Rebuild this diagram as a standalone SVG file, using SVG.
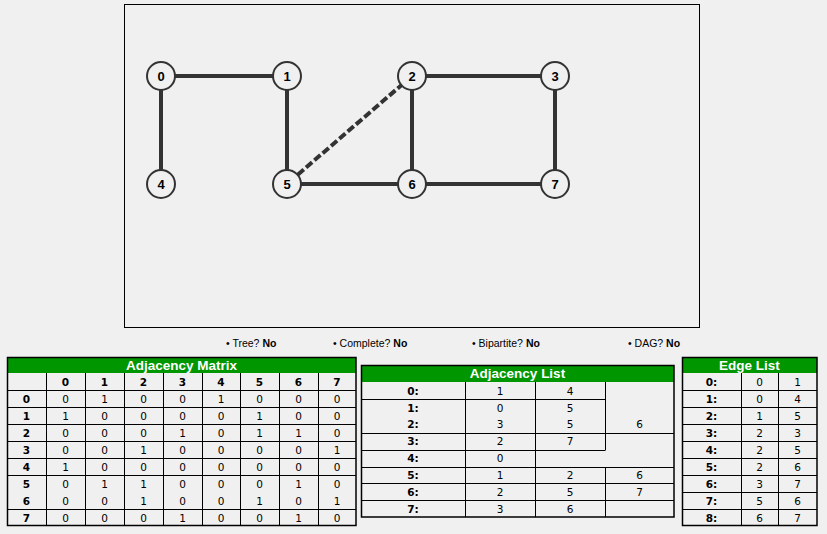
<svg xmlns="http://www.w3.org/2000/svg" width="827" height="534" viewBox="0 0 827 534">
<style>
.edge{stroke:#333;stroke-width:4;fill:none}
.dash{stroke-dasharray:8,3}
.node circle{fill:#f0f0f0;stroke:#333;stroke-width:2}
.node text{font-family:"Liberation Sans",Arial,sans-serif;font-weight:bold;font-size:13px;fill:#000;text-anchor:middle}
.hdr{fill:#009600}
.ht{font-family:"Liberation Sans",Arial,sans-serif;font-weight:bold;font-size:13.5px;fill:#fff;text-anchor:middle}
.g{stroke:#000;stroke-width:1;fill:none}
.ob{stroke:#000;stroke-width:1.5;fill:none}
.c{font-family:"DejaVu Sans",Verdana,sans-serif;font-size:10.5px;fill:#000;text-anchor:middle}
.b{font-weight:bold}
.p{font-family:"Liberation Sans",Arial,sans-serif;font-size:10.5px;fill:#000}
</style>
<rect width="827" height="534" fill="#f0f0f0"/>
<rect x="124.5" y="4.5" width="575" height="323" fill="#f0f0f0" stroke="#000" stroke-width="1"/>
<g id="connectors">
<line class="edge" x1="161" y1="76" x2="287" y2="76"/>
<line class="edge" x1="161" y1="76" x2="161" y2="184"/>
<line class="edge" x1="287" y1="76" x2="287" y2="184"/>
<line class="edge" x1="412" y1="76" x2="555" y2="76"/>
<line class="edge dash" x1="412" y1="76" x2="287" y2="184"/>
<line class="edge" x1="412" y1="76" x2="412" y2="184"/>
<line class="edge" x1="555" y1="76" x2="555" y2="184"/>
<line class="edge" x1="287" y1="184" x2="412" y2="184"/>
<line class="edge" x1="412" y1="184" x2="555" y2="184"/>
</g>
<g id="node0" class="node"><circle cx="161" cy="76" r="14"/><text x="161" y="81">0</text></g>
<g id="node1" class="node"><circle cx="287" cy="76" r="14"/><text x="287" y="81">1</text></g>
<g id="node2" class="node"><circle cx="412" cy="76" r="14"/><text x="412" y="81">2</text></g>
<g id="node3" class="node"><circle cx="555" cy="76" r="14"/><text x="555" y="81">3</text></g>
<g id="node4" class="node"><circle cx="161" cy="184" r="14"/><text x="161" y="189">4</text></g>
<g id="node5" class="node"><circle cx="287" cy="184" r="14"/><text x="287" y="189">5</text></g>
<g id="node6" class="node"><circle cx="412" cy="184" r="14"/><text x="412" y="189">6</text></g>
<g id="node7" class="node"><circle cx="555" cy="184" r="14"/><text x="555" y="189">7</text></g>

<g id="properties">
<text class="p" x="226" y="347">• Tree? <tspan font-weight="bold">No</tspan></text>
<text class="p" x="333" y="347">• Complete? <tspan font-weight="bold">No</tspan></text>
<text class="p" x="472" y="347">• Bipartite? <tspan font-weight="bold">No</tspan></text>
<text class="p" x="628" y="347">• DAG? <tspan font-weight="bold">No</tspan></text>
</g>

<g id="adjacency-matrix">
<rect class="hdr" x="7" y="357" width="349" height="16"/>
<text class="ht" x="181.5" y="370">Adjacency Matrix</text>
<path class="g" d="M46.5 373V526M85.5 373V526M124.5 373V526M163.5 373V526M202.5 373V526M240.5 373V526M279.5 373V526M318.5 373V526M7 390.5H356M7 407.5H356M7 424.5H356M7 441.5H356M7 458.5H356M7 475.5H356M7 509.5H356"/>
<rect class="ob" x="7.5" y="357.5" width="348.5" height="168"/>
<g class="c b">
<text x="65.5" y="386">0</text><text x="104.5" y="386">1</text><text x="143.5" y="386">2</text><text x="182.5" y="386">3</text><text x="221" y="386">4</text><text x="259.5" y="386">5</text><text x="298.5" y="386">6</text><text x="337" y="386">7</text>
<text x="26.5" y="403">0</text><text x="26.5" y="420">1</text><text x="26.5" y="437">2</text><text x="26.5" y="454">3</text><text x="26.5" y="471">4</text><text x="26.5" y="488">5</text><text x="26.5" y="505">6</text><text x="26.5" y="522">7</text>
</g>
<g class="c">
<text x="65.5" y="403">0</text><text x="104.5" y="403">1</text><text x="143.5" y="403">0</text><text x="182.5" y="403">0</text><text x="221" y="403">1</text><text x="259.5" y="403">0</text><text x="298.5" y="403">0</text><text x="337" y="403">0</text>
<text x="65.5" y="420">1</text><text x="104.5" y="420">0</text><text x="143.5" y="420">0</text><text x="182.5" y="420">0</text><text x="221" y="420">0</text><text x="259.5" y="420">1</text><text x="298.5" y="420">0</text><text x="337" y="420">0</text>
<text x="65.5" y="437">0</text><text x="104.5" y="437">0</text><text x="143.5" y="437">0</text><text x="182.5" y="437">1</text><text x="221" y="437">0</text><text x="259.5" y="437">1</text><text x="298.5" y="437">1</text><text x="337" y="437">0</text>
<text x="65.5" y="454">0</text><text x="104.5" y="454">0</text><text x="143.5" y="454">1</text><text x="182.5" y="454">0</text><text x="221" y="454">0</text><text x="259.5" y="454">0</text><text x="298.5" y="454">0</text><text x="337" y="454">1</text>
<text x="65.5" y="471">1</text><text x="104.5" y="471">0</text><text x="143.5" y="471">0</text><text x="182.5" y="471">0</text><text x="221" y="471">0</text><text x="259.5" y="471">0</text><text x="298.5" y="471">0</text><text x="337" y="471">0</text>
<text x="65.5" y="488">0</text><text x="104.5" y="488">1</text><text x="143.5" y="488">1</text><text x="182.5" y="488">0</text><text x="221" y="488">0</text><text x="259.5" y="488">0</text><text x="298.5" y="488">1</text><text x="337" y="488">0</text>
<text x="65.5" y="505">0</text><text x="104.5" y="505">0</text><text x="143.5" y="505">1</text><text x="182.5" y="505">0</text><text x="221" y="505">0</text><text x="259.5" y="505">1</text><text x="298.5" y="505">0</text><text x="337" y="505">1</text>
<text x="65.5" y="522">0</text><text x="104.5" y="522">0</text><text x="143.5" y="522">0</text><text x="182.5" y="522">1</text><text x="221" y="522">0</text><text x="259.5" y="522">0</text><text x="298.5" y="522">1</text><text x="337" y="522">0</text>
</g>
</g>

<g id="adjacency-list">
<rect class="hdr" x="361" y="365" width="313" height="17"/>
<text class="ht" x="517.5" y="378">Adjacency List</text>
<path class="g" d="M361 399.5H605M361 433.5H674M361 450.5H605M361 467.5H674M361 483.5H674M361 500.5H674M465.5 382V517M535.5 382V517M605.5 382V450.5M605.5 467V517"/>
<rect class="ob" x="361.5" y="365.5" width="312.5" height="151.5"/>
<g class="c b">
<text x="413" y="395">0:</text><text x="413" y="412">1:</text><text x="413" y="428">2:</text><text x="413" y="445">3:</text><text x="413" y="462">4:</text><text x="413" y="479">5:</text><text x="413" y="496">6:</text><text x="413" y="513">7:</text>
</g>
<g class="c">
<text x="500" y="395">1</text><text x="570" y="395">4</text>
<text x="500" y="412">0</text><text x="570" y="412">5</text>
<text x="500" y="428">3</text><text x="570" y="428">5</text><text x="639.5" y="428">6</text>
<text x="500" y="445">2</text><text x="570" y="445">7</text>
<text x="500" y="462">0</text>
<text x="500" y="479">1</text><text x="570" y="479">2</text><text x="639.5" y="479">6</text>
<text x="500" y="496">2</text><text x="570" y="496">5</text><text x="639.5" y="496">7</text>
<text x="500" y="513">3</text><text x="570" y="513">6</text>
</g>
</g>

<g id="edge-list">
<rect class="hdr" x="682" y="357" width="135" height="16"/>
<text class="ht" x="749.5" y="370">Edge List</text>
<path class="g" d="M741.5 373V526M778.5 373V526M682 390.5H817M682 407.5H817M682 424.5H817M682 441.5H817M682 458.5H817M682 475.5H817M682 492.5H817M682 509.5H817"/>
<rect class="ob" x="682.5" y="357.5" width="134.5" height="168"/>
<g class="c b">
<text x="711.5" y="386">0:</text><text x="711.5" y="403">1:</text><text x="711.5" y="420">2:</text><text x="711.5" y="437">3:</text><text x="711.5" y="454">4:</text><text x="711.5" y="471">5:</text><text x="711.5" y="488">6:</text><text x="711.5" y="505">7:</text><text x="711.5" y="522">8:</text>
</g>
<g class="c">
<text x="759.5" y="386">0</text><text x="797.5" y="386">1</text>
<text x="759.5" y="403">0</text><text x="797.5" y="403">4</text>
<text x="759.5" y="420">1</text><text x="797.5" y="420">5</text>
<text x="759.5" y="437">2</text><text x="797.5" y="437">3</text>
<text x="759.5" y="454">2</text><text x="797.5" y="454">5</text>
<text x="759.5" y="471">2</text><text x="797.5" y="471">6</text>
<text x="759.5" y="488">3</text><text x="797.5" y="488">7</text>
<text x="759.5" y="505">5</text><text x="797.5" y="505">6</text>
<text x="759.5" y="522">6</text><text x="797.5" y="522">7</text>
</g>
</g>
</svg>
